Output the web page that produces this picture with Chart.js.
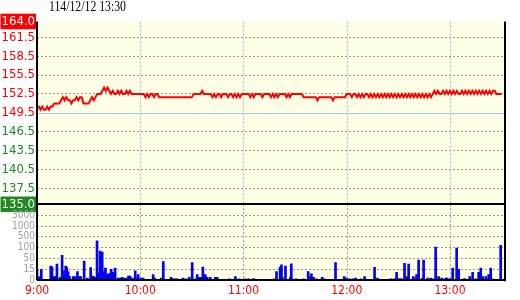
<!DOCTYPE html>
<html><head><meta charset="utf-8">
<script src="https://cdn.jsdelivr.net/npm/chart.js@4.4.1/dist/chart.umd.min.js"></script>
<style>
html,body{margin:0;padding:0;background:#fff;}
#wrap{position:relative;width:520px;height:300px;overflow:hidden;}
canvas{position:absolute;left:0;top:0;}
#title{position:absolute;left:49px;top:-1px;font-family:"Liberation Serif",serif;font-size:14px;line-height:16px;color:#000;transform:scaleX(0.84);transform-origin:0 0;white-space:nowrap;}
</style></head><body>
<div id="wrap"><canvas id="c" width="520" height="300"></canvas><div id="title"></div></div>
<script>
const titleText = '114/12/12 13:30';
const timeLabels = ['9:00','10:00','11:00','12:00','13:00'];
const timeTicks = [0,60,120,180,240];
const priceTicks = [135.0,137.5,140.5,143.5,146.5,149.5,152.5,155.5,158.5,161.5,164.0];
const refPrice = 149.5;
const priceMin = 135.0, priceMax = 164.0;
// one price per minute from 9:00
const prices = [
150.5,150.5,150,150.5,150,150,150.5,150,150.5,150.5,
151,151,151,151,151.5,152,151.5,152,151.5,151.5,
151,151.5,151.5,152,151.5,152,152,151,151,151,
151,151.5,152,151.5,152,152.5,152.5,152.5,153,153.5,
153,153.5,153,152.5,153,152.5,152.5,153,152.5,153,
152.5,152.5,153,152.5,153,152.5,152.5,152.5,152.5,152.5,
152.5,152.5,152.5,152,152.5,152,152.5,152.5,152,152.5,
152.5,152,152,152,152,152,152,152,152,152,
152,152,152,152,152,152,152,152,152,152,
152,152.5,152.5,152.5,152.5,152.5,153,152.5,152.5,152.5,
152.5,152.5,152,152.5,152,152.5,152.5,152,152.5,152.5,
152.5,152,152.5,152.5,152,152.5,152,152.5,152,152.5,
152.5,152.5,152.5,152.5,152,152.5,152,152.5,152.5,152.5,
152.5,152,152.5,152.5,152.5,152.5,152,152.5,152,152.5,
152,152.5,152.5,152.5,152.5,152,152.5,152,152.5,152.5,
152.5,152.5,152.5,152.5,152.5,152,152,152,152,152,
152,152,152,151.5,152,152,152,152,152,152,
152,152,151.5,152,152,152,152,152,152,152,
152.5,152.5,152.5,152,152.5,152.5,152,152.5,152,152.5,
152,152.5,152.5,152,152.5,152,152.5,152,152.5,152,
152.5,152,152.5,152,152.5,152,152.5,152,152.5,152,
152.5,152,152.5,152,152.5,152,152.5,152,152.5,152,
152.5,152,152.5,152,152.5,152,152.5,152,152.5,152,
152.5,153,152.5,153,152.5,152.5,153,152.5,153,152.5,
153,152.5,153,152.5,153,152.5,152.5,153,152.5,153,
152.5,153,152.5,153,152.5,153,152.5,153,152.5,153,
152.5,153,152.5,153,152.5,153,153,152.5,152.5,152.5,
152.5
];
// volume bars: minutes after 9:00 and lots
const volTimes = [
0,1.5,2.5,8,8.7,9.5,10.3,11.6,13.4,14.6,15.2,15.9,16.7,17.3,18.1,18.9,21,22.1,23.5,24.8,
25.4,27.4,29.3,31.2,32.6,33.6,34.9,35.7,36.7,37.3,37.9,39,39.8,40.4,41.5,42.3,43.1,44.1,45.4,47.1,
48.5,49.5,51,52.6,53.2,54.1,55.5,57.1,57.8,58.8,60.4,61.7,67.5,68.5,72.2,73.4,
77.9,79.2,80.1,81.5,84.8,86.5,88.5,90.2,92,93.1,93.9,94.5,95.1,96.4,97.8,98.9,100.7,103.6,104.7,111.8,
115.3,117.4,120.9,123,125.7,126.3,137.8,139.2,141.3,142.1,142.6,144.4,147.3,147.8,150.4,154.9,157.6,158.3,159.5,160.3,
160.8,162.6,165.7,166.9,173.5,178.5,179.7,
181.6,183.6,185.1,188.2,190.4,196.2,197.9,205.7,207.8,208.6,209,209.6,210.3,211.1,211.9,213.6,215,216,218.7,220,
220.6,221.2,221.8,224.1,224.7,227,228.8,230.3,231.7,233.4,235.2,237.5,238.3,239.8,240.6,241.6,243.9,245.1,248.2,248.8,
251.5,253.2,255,256.7,257.3,257.9,259,260.8,262.5,263.1,263.7,264.5,269.5
];
const volValues = [
15,5,15,26,23,5,5,32,4,65,5,13,26,21,12,5,5,5,12,5,
5,42,3,21,6,4,350,10,85,8,80,12,19,8,9,9,15,11,19,3,
3,4,3,3,6,6,3,13,3,8,3,3,8,3,3,40,
4,2,2,2,3,2,4,37,2,8,4,4,4,23,8,4,4,4,4,2,
5,2,2,2,2,2,2,12,23,30,4,26,4,33,2,2,12,5,9,4,
4,2,4,2,37,5,3,
2,2,3,2,5,22,3,2,2,2,11,2,2,2,2,35,5,32,5,3,
8,3,45,3,45,3,3,2,123,5,3,3,3,2,2,19,98,15,2,2,
5,11,2,11,5,19,5,5,8,3,19,2,187
];
const volTickLabels = ['0','15','50','100','500','1000','3000'];
const volLevels = [0,15,50,100,500,1000,3000,5000];

document.getElementById('title').textContent = titleText;

function volLevel(v){
  for (let i=0;i<volLevels.length-1;i++){
    if (v <= volLevels[i+1]) return i + (v-volLevels[i])/(volLevels[i+1]-volLevels[i]);
  }
  return volLevels.length-1;
}

const NARROW = '"Liberation Sans Narrow","DejaVu Sans Condensed","Liberation Sans",sans-serif';
const RED = '#ff0000', GREEN = '#1f8a1f';

function hline(ctx,x1,y1,x2,y2){ctx.beginPath();ctx.moveTo(x1,y1);ctx.lineTo(x2,y2);ctx.stroke();}

const framePlugin = {
  id:'frame',
  beforeDraw(chart){
    const {ctx, chartArea:a} = chart;
    ctx.save();
    ctx.fillStyle = '#ffffe6';
    ctx.fillRect(a.left, a.top, a.right-a.left, a.bottom-a.top);
    ctx.restore();
  },
  beforeDatasetsDraw(chart){
    const {ctx, chartArea:a, scales} = chart;
    const x = scales.x, yP = scales.yP, yV = scales.yV;
    ctx.save();
    ctx.lineWidth = 1;
    ctx.setLineDash([2,2]);
    timeTicks.forEach(t => {
      if (t === 0) return;
      const px = Math.round(x.getPixelForValue(t)) + 0.5;
      ctx.strokeStyle = '#8fc0e6';
      hline(ctx, px, yP.top, px, yP.bottom);
      ctx.strokeStyle = '#a0a0a0';
      hline(ctx, px, yV.top, px, yV.bottom);
    });
    ctx.setLineDash([]);
    const ry = Math.round(yP.getPixelForValue(refPrice)) + 0.5;
    ctx.strokeStyle = '#9ccbeb';
    hline(ctx, a.left, ry, a.right, ry);
    ctx.restore();
  },
  afterDatasetsDraw(chart){
    const {ctx, chartArea:a, scales} = chart;
    const yP = scales.yP;
    ctx.save();
    ctx.strokeStyle = '#000';
    ctx.lineWidth = 2;
    const sep = Math.round(yP.bottom);
    hline(ctx, a.left, sep, a.right, sep);
    const bot = Math.round(a.bottom);
    hline(ctx, a.left, bot, a.right+1, bot);
    hline(ctx, Math.round(a.left), a.top, Math.round(a.left), a.bottom);
    hline(ctx, Math.round(a.right), a.top, Math.round(a.right), a.bottom+1);
    ctx.restore();
  }
};

const isEdge = v => v === priceMax || v === priceMin;

new Chart(document.getElementById('c'), {
  type: 'bar',
  data: {
    datasets: [
      {
        type: 'line',
        data: prices.map((p,i) => ({x:i, y:p})),
        xAxisID: 'x', yAxisID: 'yP',
        borderColor: RED, borderWidth: 2, pointRadius: 0, tension: 0,
        fill: false
      },
      {
        type: 'bar',
        data: volTimes.map((t,i) => ({x:t, y:volLevel(volValues[i])})),
        xAxisID: 'x', yAxisID: 'yV',
        backgroundColor: '#0000ff', barThickness: 2, borderWidth: 0
      }
    ]
  },
  options: {
    responsive: false, devicePixelRatio: 1, animation: false,
    layout: { padding: { top: 21.5, right: 15, left: 0, bottom: 0 } },
    plugins: { legend: {display:false}, tooltip: {enabled:false}, title:{display:false} },
    scales: {
      x: {
        type: 'linear', min: 0, max: 272, offset: false,
        grid: { display: false, offset: false, drawTicks: false },
        border: { display: false },
        afterBuildTicks: s => { s.ticks = timeTicks.map(v => ({value:v})); },
        afterFit: s => { s.height = 19.7; },
        ticks: {
          autoSkip: false, maxRotation: 0, padding: 3,
          color: RED, font: { family: NARROW, size: 12 },
          callback: (v, i) => timeLabels[timeTicks.indexOf(v)]
        }
      },
      yP: {
        type: 'linear', position: 'left', stack: 'main', stackWeight: 182.8, weight: 1,
        min: priceMin, max: priceMax,
        afterBuildTicks: s => { s.ticks = priceTicks.map(v => ({value:v})); },
        afterFit: s => { s.width = 37; },
        grid: {
          drawTicks: false,
          color: c => (c.tick && (isEdge(c.tick.value) || c.tick.value === refPrice)) ? 'rgba(0,0,0,0)' : '#9a9a9a',
          lineWidth: 1
        },
        border: { display: false, dash: [2,2] },
        ticks: {
          autoSkip: false, padding: 2,
          font: { family: NARROW, size: 13 },
          color: c => isEdge(c.tick.value) ? '#ffffff' : (c.tick.value >= refPrice ? RED : GREEN),
          showLabelBackdrop: c => isEdge(c.tick.value),
          backdropColor: c => c.tick.value === priceMax ? RED : GREEN,
          backdropPadding: { left: 1, right: 1, top: 0, bottom: 0 },
          callback: v => v.toFixed(1)
        }
      },
      yV: {
        type: 'linear', position: 'left', stack: 'main', stackWeight: 76, weight: 0,
        min: 0, max: volLevels.length - 1,
        afterBuildTicks: s => { s.ticks = volTickLabels.map((l,i) => ({value:i})); },
        afterFit: s => { s.width = 37; },
        grid: {
          drawTicks: false,
          color: c => (c.tick && c.tick.value === 0) ? 'rgba(0,0,0,0)' : '#9a9a9a',
          lineWidth: 1
        },
        border: { display: false, dash: [2,2] },
        ticks: {
          autoSkip: false, padding: 2,
          font: { family: NARROW, size: 10 },
          color: '#a0a0a0',
          callback: v => volTickLabels[v]
        }
      }
    }
  },
  plugins: [framePlugin]
});
</script>
</body></html>
